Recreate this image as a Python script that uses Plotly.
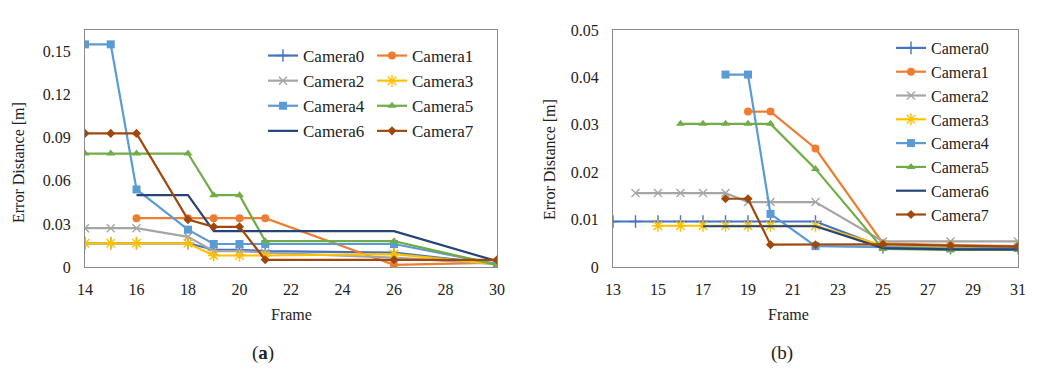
import plotly.graph_objects as go

W, H = 1040, 379

# ---------------- data: chart (a) ----------------
frames_a = [14, 15, 16, 18, 19, 20, 21, 26, 30]
a_cam0 = [0.0165, 0.0165, 0.0165, 0.0165, 0.012, 0.012, 0.011, 0.010, 0.002]
a_cam1 = [None, None, 0.034, 0.034, 0.034, 0.034, 0.034, 0.0015, 0.003]
a_cam2 = [0.027, 0.027, 0.027, 0.021, 0.011, 0.011, 0.010, 0.0065, 0.002]
a_cam3 = [0.0165, 0.0165, 0.0165, 0.0165, 0.008, 0.008, 0.008, 0.009, 0.002]
a_cam4 = [0.155, 0.155, 0.054, 0.026, 0.016, 0.016, 0.016, 0.016, 0.002]
a_cam5 = [0.079, 0.079, 0.079, 0.079, 0.050, 0.050, 0.018, 0.018, 0.0015]
a_cam6 = [None, None, 0.050, 0.050, 0.025, 0.025, 0.025, 0.025, 0.004]
a_cam7 = [0.093, 0.093, 0.093, 0.033, 0.028, 0.028, 0.005, 0.005, 0.005]

# ---------------- data: chart (b) ----------------
frames_b = [13, 14, 15, 16, 17, 18, 19, 20, 22, 25, 28, 31]
b_cam0 = [0.0096, 0.0096, 0.0096, 0.0096, 0.0096, 0.0096, 0.0096, 0.0096, 0.0096, 0.0042, 0.0040, 0.0040]
b_cam1 = [None, None, None, None, None, None, 0.0328, 0.0328, 0.0250, 0.0050, 0.0046, 0.0044]
b_cam2 = [None, 0.0156, 0.0156, 0.0156, 0.0156, 0.0156, 0.0137, 0.0137, 0.0137, 0.0054, 0.0054, 0.0054]
b_cam3 = [None, None, 0.0087, 0.0087, 0.0087, 0.0087, 0.0087, 0.0087, 0.0087, 0.0045, 0.0042, 0.0041]
b_cam4 = [None, None, None, None, None, 0.0406, 0.0406, 0.0112, 0.0044, 0.0042, 0.0039, 0.0040]
b_cam5 = [None, None, None, 0.0302, 0.0302, 0.0302, 0.0302, 0.0302, 0.0207, 0.0038, 0.0036, 0.0036]
b_cam6 = [None, None, None, None, 0.0086, 0.0086, 0.0086, 0.0086, 0.0086, 0.0040, 0.0037, 0.0037]
b_cam7 = [None, None, None, None, None, 0.0144, 0.0144, 0.0047, 0.0047, 0.0048, 0.0045, 0.0043]

names = ["Camera0", "Camera1", "Camera2", "Camera3", "Camera4", "Camera5", "Camera6", "Camera7"]
colors = ["#4472C4", "#ED7D31", "#A5A5A5", "#FFC000", "#5B9BD5", "#70AD47", "#264478", "#9E480E"]
symbols = ["cross-thin", "circle", "x-thin", "asterisk", "square", "triangle-up", None, "diamond"]
sizes = [9, 8, 8, 10, 8, 8, 0, 7]

series_a = [a_cam0, a_cam1, a_cam2, a_cam3, a_cam4, a_cam5, a_cam6, a_cam7]
series_b = [b_cam0, b_cam1, b_cam2, b_cam3, b_cam4, b_cam5, b_cam6, b_cam7]

FONT = "Liberation Serif, Times New Roman, serif"
TXT = "#222"
fig = go.Figure()


def marker(i):
    if symbols[i] is None:
        return dict(size=1, opacity=0)
    thin = symbols[i] in ("cross-thin", "x-thin", "asterisk")
    return dict(symbol=symbols[i], size=sizes[i], color=colors[i],
                line=dict(color=colors[i], width=1.4 if thin else 0))


for i in range(8):
    mode = "lines" if symbols[i] is None else "lines+markers"
    fig.add_trace(go.Scatter(
        x=frames_a, y=series_a[i], name=names[i], mode=mode,
        line=dict(color=colors[i], width=2.2), marker=marker(i),
        xaxis="x", yaxis="y", legend="legend" if i % 2 == 0 else "legend2",
        connectgaps=False))

for i in range(8):
    mode = "lines" if symbols[i] is None else "lines+markers"
    fig.add_trace(go.Scatter(
        x=frames_b, y=series_b[i], name=names[i], mode=mode,
        line=dict(color=colors[i], width=2.2), marker=marker(i),
        xaxis="x2", yaxis="y2", legend="legend3",
        connectgaps=False))

OFF = 8  # page body margin offset of the screenshot


def px_x(p):
    return (p - OFF) / W


def px_y(p):
    return 1 - (p - OFF) / H


axis_common = dict(showline=True, linecolor="#8a8a8a", linewidth=1, mirror=True,
                   showgrid=False, zeroline=False, ticks="", automargin=False,
                   tickfont=dict(family=FONT, size=16, color=TXT))

leg_common = dict(xanchor="left", yanchor="top", bgcolor="rgba(0,0,0,0)", itemwidth=30,
                  itemclick=False)

fig.update_layout(
    width=W, height=H,
    margin=dict(l=0, r=0, t=0, b=0, autoexpand=False),
    paper_bgcolor="white", plot_bgcolor="white",
    font=dict(family=FONT, size=16, color=TXT),
    xaxis=dict(domain=[px_x(85), px_x(497)], range=[14, 30], tickvals=list(range(14, 31, 2)),
               anchor="y", ticklabelstandoff=8, **axis_common),
    yaxis=dict(domain=[px_y(267), px_y(30)], range=[0, 0.165],
               tickvals=[0, 0.03, 0.06, 0.09, 0.12, 0.15],
               ticktext=["0", "0.03", "0.06", "0.09", "0.12", "0.15"],
               anchor="x", ticklabelstandoff=10, **axis_common),
    xaxis2=dict(domain=[px_x(613), px_x(1018)], range=[13, 31], tickvals=list(range(13, 32, 2)),
                anchor="y2", ticklabelstandoff=8, **axis_common),
    yaxis2=dict(domain=[px_y(267), px_y(30)], range=[0, 0.05],
                tickvals=[0, 0.01, 0.02, 0.03, 0.04, 0.05],
                ticktext=["0", "0.01", "0.02", "0.03", "0.04", "0.05"],
                anchor="x2", ticklabelstandoff=10, **axis_common),
    legend=dict(x=px_x(263), y=px_y(38), font=dict(family=FONT, size=17, color=TXT), **leg_common),
    legend2=dict(x=px_x(372), y=px_y(38), font=dict(family=FONT, size=17, color=TXT), **leg_common),
    legend3=dict(x=px_x(891), y=px_y(31), font=dict(family=FONT, size=16, color=TXT), **leg_common),
    showlegend=True,
)

annots = [
    dict(text="Frame", x=px_x(291), y=px_y(314), size=16),
    dict(text="Frame", x=px_x(788), y=px_y(314), size=16),
    dict(text="(<b>a</b>)", x=px_x(263), y=px_y(353), size=19),
    dict(text="(b)", x=px_x(782), y=px_y(353), size=19),
]
for a in annots:
    fig.add_annotation(text=a["text"], x=a["x"], y=a["y"], xref="paper", yref="paper",
                       xanchor="center", yanchor="middle", showarrow=False,
                       font=dict(family=FONT, size=a["size"], color=TXT))
for xp, yp in [(18, 163), (549, 160)]:
    fig.add_annotation(text="Error Distance [m]", x=px_x(xp), y=px_y(yp), xref="paper", yref="paper",
                       xanchor="center", yanchor="middle", showarrow=False, textangle=-90,
                       font=dict(family=FONT, size=16, color=TXT))

fig.write_html("out.html")
